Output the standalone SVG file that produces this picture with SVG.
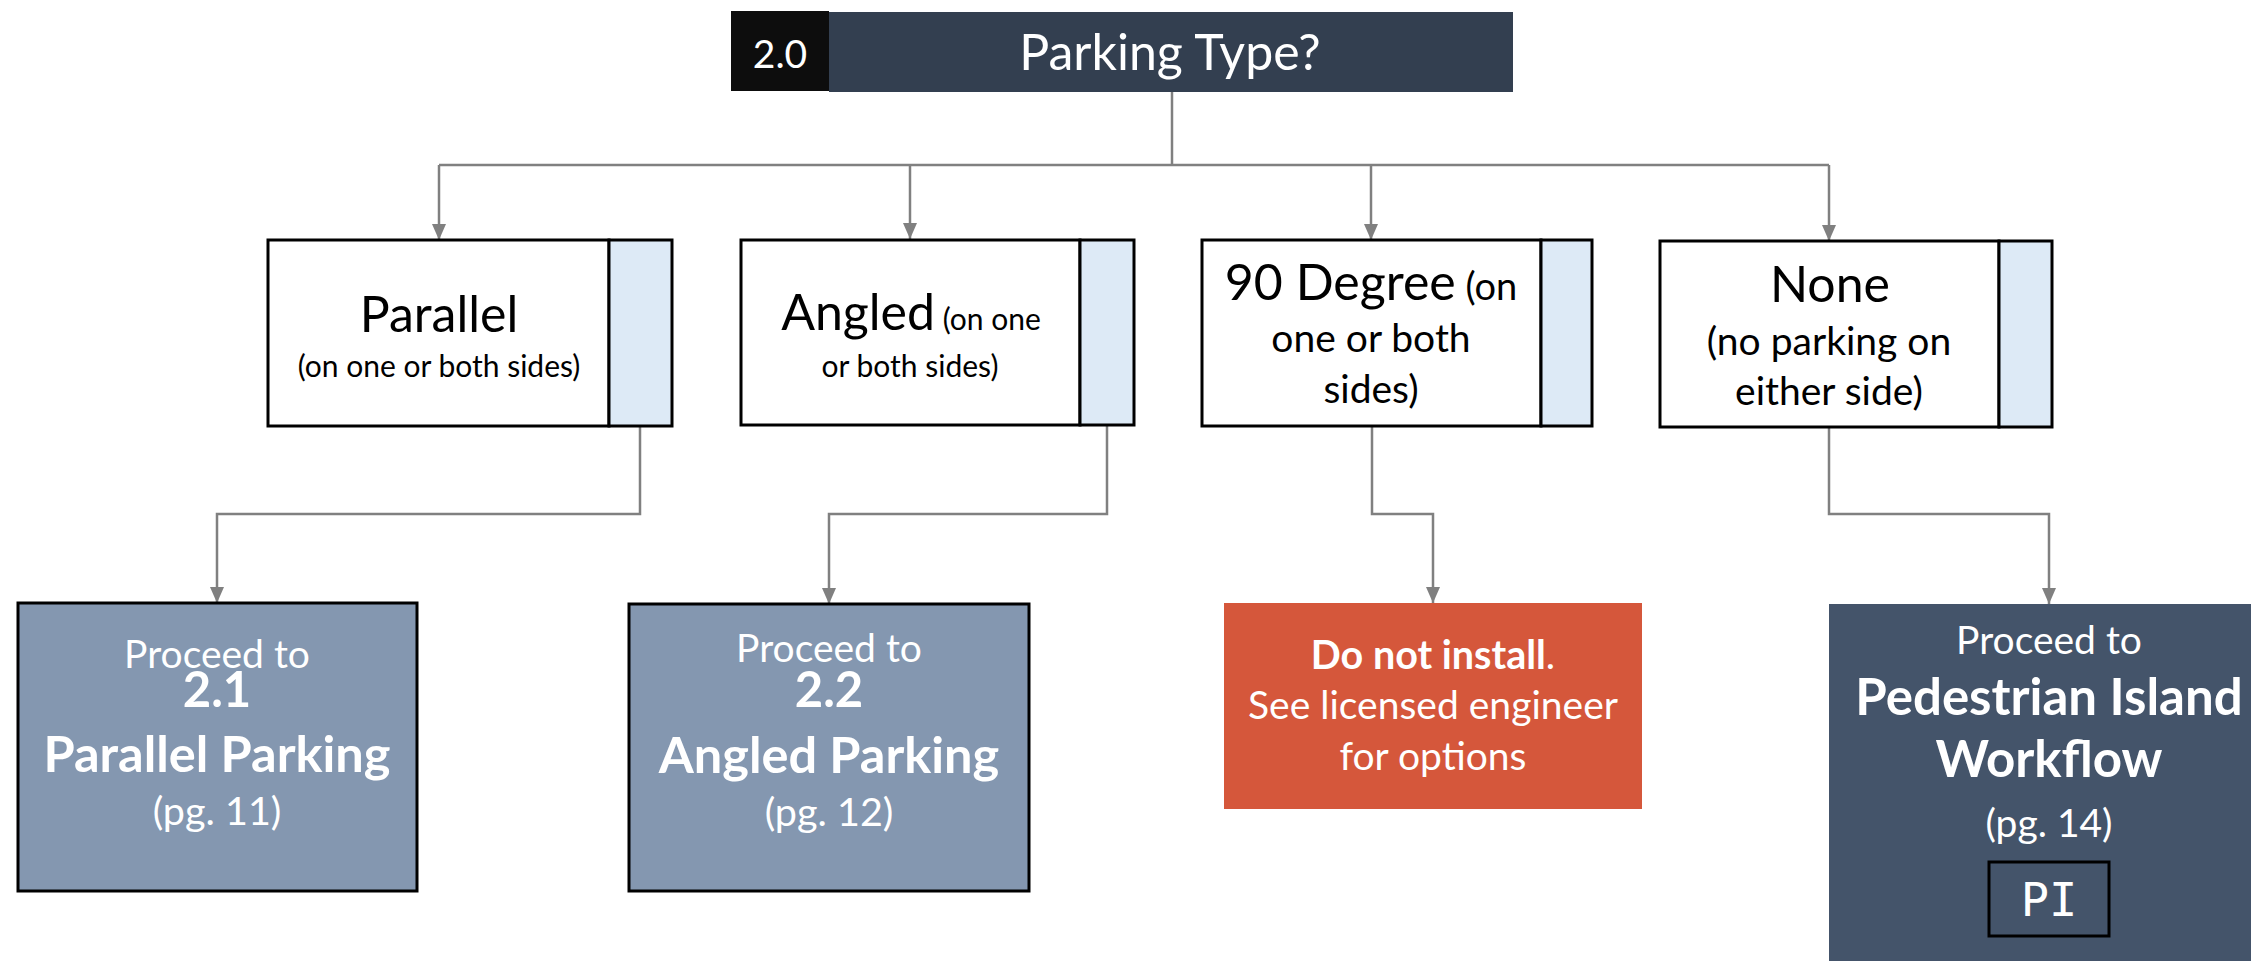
<svg xmlns="http://www.w3.org/2000/svg" width="2251" height="961" viewBox="0 0 2251 961">
<style>
text{font-family:Lato,"Liberation Sans",sans-serif;text-anchor:middle}
.w{fill:#ffffff}
.k{fill:#000000}
.opt{fill:#ffffff;stroke:#000000;stroke-width:3}
.tab{fill:#DDEAF6;stroke:#000000;stroke-width:3}
.dest{fill:#8497B0;stroke:#000000;stroke-width:3}
.conn{fill:none;stroke:#808080;stroke-width:2.5}
.b{font-weight:bold}
</style>
<defs>
<marker id="arr" viewBox="0 0 14 16" refX="7" refY="16" markerWidth="14" markerHeight="16" markerUnits="userSpaceOnUse" orient="0">
<path d="M0,0 L14,0 L7,16 z" fill="#808080"/>
</marker>
</defs>
<rect width="2251" height="961" fill="#ffffff"/>
<g id="connectors">
<path class="conn" d="M1172,92 V165"/>
<path class="conn" d="M439,165 H1829"/>
<path class="conn" d="M439,165 V240" marker-end="url(#arr)"/>
<path class="conn" d="M910,165 V239" marker-end="url(#arr)"/>
<path class="conn" d="M1371,165 V240" marker-end="url(#arr)"/>
<path class="conn" d="M1829,165 V241" marker-end="url(#arr)"/>
<path class="conn" d="M640,426 V514 H217 V603" marker-end="url(#arr)"/>
<path class="conn" d="M1107,425 V514 H829 V604" marker-end="url(#arr)"/>
<path class="conn" d="M1372,426 V514 H1433 V603" marker-end="url(#arr)"/>
<path class="conn" d="M1829,427 V514 H2049 V604" marker-end="url(#arr)"/>
</g>
<g id="title">
<rect x="731" y="11" width="98" height="80" fill="#0D0D0D"/>
<rect x="829" y="12" width="684" height="80" fill="#333F50"/>
<text class="w" x="780" y="68" font-size="39">2.0</text>
<text class="w" x="1170" y="70" font-size="50">Parking Type?</text>
</g>
<g id="parallel">
<rect class="opt" x="268" y="240" width="341" height="186"/>
<rect class="tab" x="609" y="240" width="63" height="186"/>
<text class="k" x="439" y="332" font-size="50">Parallel</text>
<text class="k" x="439" y="377" font-size="30">(on one or both sides)</text>
</g>
<g id="angled">
<rect class="opt" x="741" y="240" width="339" height="185"/>
<rect class="tab" x="1080" y="240" width="54" height="185"/>
<text class="k" x="911" y="330"><tspan font-size="50">Angled</tspan><tspan font-size="30"> (on one</tspan></text>
<text class="k" x="910" y="377" font-size="30">or both sides)</text>
</g>
<g id="ninety">
<rect class="opt" x="1202" y="240" width="339" height="186"/>
<rect class="tab" x="1541" y="240" width="51" height="186"/>
<text class="k" x="1371" y="300"><tspan font-size="50">90 Degree</tspan><tspan font-size="38"> (on</tspan></text>
<text class="k" x="1371" y="352" font-size="39">one or both</text>
<text class="k" x="1371" y="403" font-size="39">sides)</text>
</g>
<g id="none">
<rect class="opt" x="1660" y="241" width="339" height="186"/>
<rect class="tab" x="1999" y="241" width="53" height="186"/>
<text class="k" x="1830" y="302" font-size="50">None</text>
<text class="k" x="1829" y="355" font-size="39">(no parking on</text>
<text class="k" x="1829" y="405" font-size="39">either side)</text>
</g>
<g id="parallel-parking">
<rect class="dest" x="18" y="603" width="399" height="288"/>
<text class="w" x="217" y="668" font-size="39">Proceed to</text>
<text class="w b" x="217" y="707" font-size="49">2.1</text>
<text class="w b" x="217" y="772" font-size="50.5">Parallel Parking</text>
<text class="w" x="217" y="825" font-size="39.5">(pg. 11)</text>
</g>
<g id="angled-parking">
<rect class="dest" x="629" y="604" width="400" height="287"/>
<text class="w" x="829" y="662" font-size="39">Proceed to</text>
<text class="w b" x="829" y="707" font-size="49">2.2</text>
<text class="w b" x="829" y="773" font-size="50.5">Angled Parking</text>
<text class="w" x="829" y="826" font-size="39.5">(pg. 12)</text>
</g>
<g id="do-not-install">
<rect x="1224" y="603" width="418" height="206" fill="#D5573B"/>
<text class="w" x="1433" y="669" font-size="39.5"><tspan class="b">Do not install</tspan>.</text>
<text class="w" x="1433" y="719" font-size="39">See licensed engineer</text>
<text class="w" x="1433" y="770" font-size="39">for options</text>
</g>
<g id="pedestrian-island">
<rect x="1829" y="604" width="441" height="360" fill="#44546A"/>
<text class="w" x="2049" y="654" font-size="39">Proceed to</text>
<text class="w b" x="2049" y="715" font-size="51">Pedestrian Island</text>
<text class="w b" x="2049" y="777" font-size="51">Workflow</text>
<text class="w" x="2049" y="837" font-size="39">(pg. 14)</text>
<rect x="1989" y="862" width="120" height="74" fill="none" stroke="#000000" stroke-width="3"/>
<text class="w" x="2049" y="916" font-size="47" style="font-family:'DejaVu Sans Mono','Liberation Mono',monospace">PI</text>
</g>
</svg>
